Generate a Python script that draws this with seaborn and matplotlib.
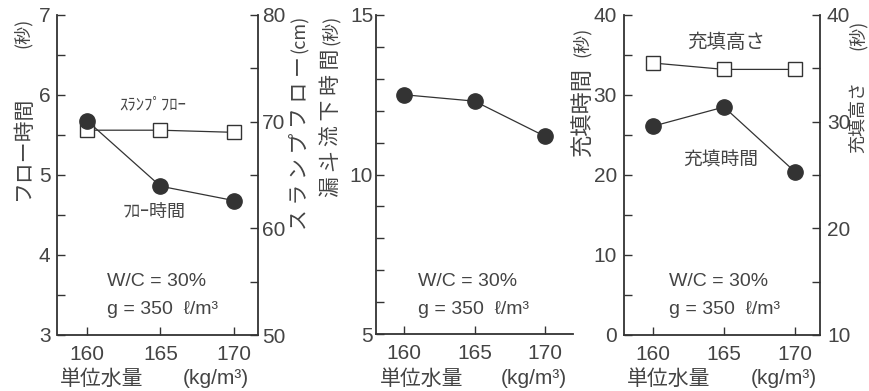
import matplotlib
matplotlib.use("Agg")
import matplotlib.pyplot as plt
from matplotlib.ticker import MultipleLocator
import seaborn as sns
import pandas as pd

# Unit water content (kg/m3)
water = [160, 165, 170]
# Left panel
flow_time = [5.68, 4.86, 4.68]        # フロー時間 (s)
slump_flow = [69.2, 69.2, 69.0]       # スランプフロー (cm)
# Middle panel
funnel_time = [12.5, 12.3, 11.2]      # 漏斗流下時間 (s)
# Right panel
fill_time = [26.1, 28.5, 20.4]        # 充填時間 (s)
fill_height = [35.5, 34.9, 34.9]      # 充填高さ

xticks = [160, 165, 170]

sns.set_theme(style="white")
plt.rcParams["font.family"] = ["Liberation Sans", "Noto Sans CJK JP", "DejaVu Sans"]
plt.rcParams["axes.unicode_minus"] = False

INK = "#333333"
TXT = "#444444"
JP = ["Noto Sans CJK JP", "DejaVu Sans"]
W, H = 870, 391

fig = plt.figure(figsize=(8.7, 3.91), dpi=100)
fig.patch.set_facecolor("white")


def px_axes(l, r, t, b):
    return fig.add_axes([l / W, 1 - b / H, (r - l) / W, (b - t) / H])


def style_axis(ax, side_spines):
    for s in ["top", "right", "left", "bottom"]:
        ax.spines[s].set_visible(s in side_spines)
        ax.spines[s].set_color(INK)
        ax.spines[s].set_linewidth(1.3)
    ax.set_facecolor("none")
    ax.grid(False)


def filled(ax, y):
    df = pd.DataFrame({"x": water, "y": y})
    sns.lineplot(data=df, x="x", y="y", ax=ax, color=INK, linewidth=0.9,
                 marker="o", markersize=11, markerfacecolor=INK,
                 markeredgecolor=INK, markeredgewidth=1, legend=False)


def hollow(ax, y):
    df = pd.DataFrame({"x": water, "y": y})
    sns.lineplot(data=df, x="x", y="y", ax=ax, color=INK, linewidth=0.9,
                 marker="s", markersize=9.5, markerfacecolor="white",
                 markeredgecolor=INK, markeredgewidth=1, legend=False)


def setup_x(ax, xlim):
    ax.set_xlim(*xlim)
    ax.set_xticks(xticks)
    ax.set_xticklabels([str(v) for v in xticks])
    ax.tick_params(axis="x", direction="in", length=6, width=1, color=INK,
                   labelsize=15, labelcolor=TXT, pad=7, top=False, bottom=True)
    ax.set_xlabel("")
    ax.set_ylabel("")


def setup_y(ax, ylim, major, minor, side, pad):
    ax.set_ylim(*ylim)
    ax.yaxis.set_major_locator(MultipleLocator(major))
    ax.yaxis.set_minor_locator(MultipleLocator(minor))
    left = side == "left"
    ax.tick_params(axis="y", which="both", direction="in", length=6, width=1,
                   color=INK, left=left, right=not left,
                   labelleft=left, labelright=not left)
    ax.tick_params(axis="y", which="major", labelsize=15, labelcolor=TXT, pad=pad)
    ax.set_ylabel("")


def xlabels(left_px, right_px):
    fig.text(left_px / W, 1 - 379 / H, "単位水量", fontsize=15, color=TXT,
             ha="left", va="center", family=JP)
    fig.text(right_px / W, 1 - 379 / H, "(kg/m³)", fontsize=15, color=TXT,
             ha="right", va="center")


def vlabel(x_px, bottom_px, text, unit, unit_top_px, size=15):
    fig.text(x_px / W, 1 - bottom_px / H, text, rotation=90, fontsize=size,
             color=TXT, ha="center", va="bottom", family=JP)
    fig.text(x_px / W, 1 - unit_top_px / H, unit, rotation=90, fontsize=13,
             color=TXT, ha="center", va="top", family=JP)


def conditions(ax_left_px):
    fig.text(ax_left_px / W, 1 - 282 / H, "W/C = 30%", fontsize=14, color=TXT,
             ha="left", va="center")
    fig.text(ax_left_px / W, 1 - 309 / H, "g = 350  ℓ/m³", fontsize=14,
             color=TXT, ha="left", va="center")


# ---- Left panel: flow time and slump flow ----
ax1 = px_axes(57.5, 258, 15, 335)
ax1r = ax1.twinx()
hollow(ax1r, slump_flow)
filled(ax1, flow_time)
ax1.set_zorder(ax1r.get_zorder() + 1)
style_axis(ax1, ["left", "bottom"])
style_axis(ax1r, ["right"])
setup_x(ax1, (158.0, 171.63))
ax1r.set_xlim(158.0, 171.63)
ax1r.tick_params(axis="x", bottom=False, labelbottom=False)
setup_y(ax1, (3, 7), 1, 0.5, "left", 5)
setup_y(ax1r, (50, 80), 10, 5, "right", 3)
ax1r.set_xlabel("")
xlabels(60, 249)
vlabel(23, 200, "フロー時間", "(秒)", 18)
vlabel(300, 230, "ス ラ ン プ フ ロ ー", "(cm)", 15)
fig.text(153 / W, 1 - 105 / H, "ｽﾗﾝﾌﾟﾌﾛｰ", fontsize=12, color=TXT,
         ha="center", va="center", family=JP)
fig.text(154 / W, 1 - 212 / H, "ﾌﾛｰ時間", fontsize=13, color=TXT,
         ha="center", va="center", family=JP)
conditions(107)

# ---- Middle panel: funnel flow time ----
ax2 = px_axes(376, 573, 15, 334)
filled(ax2, funnel_time)
style_axis(ax2, ["left", "bottom"])
setup_x(ax2, (158.0, 172.0))
setup_y(ax2, (5, 15), 5, 1, "left", 2)
xlabels(380, 567)
vlabel(331, 197, "漏 斗 流 下 時 間", "(秒)", 15)
conditions(418)

# ---- Right panel: filling time and filling height ----
ax3 = px_axes(624, 820, 15, 335)
ax3r = ax3.twinx()
hollow(ax3r, fill_height)
filled(ax3, fill_time)
style_axis(ax3, ["left", "bottom"])
style_axis(ax3r, ["right"])
setup_x(ax3, (157.96, 171.76))
ax3r.set_xlim(157.96, 171.76)
ax3r.tick_params(axis="x", bottom=False, labelbottom=False)
setup_y(ax3, (0, 40), 10, 5, "left", 5)
setup_y(ax3r, (10, 40), 10, 5, "right", 5)
ax3r.set_xlabel("")
xlabels(627, 817)
vlabel(858, 153, "充填高さ", "(秒)", 20, size=13)
vlabel(582, 157, "充填時間", "(秒)", 27, size=16)
fig.text(726 / W, 1 - 43 / H, "充填高さ", fontsize=14, color=TXT,
         ha="center", va="center", family=JP)
fig.text(721 / W, 1 - 160 / H, "充填時間", fontsize=13.5, color=TXT,
         ha="center", va="center", family=JP)
conditions(669)

fig.savefig("out.png", dpi=100, facecolor="white")
